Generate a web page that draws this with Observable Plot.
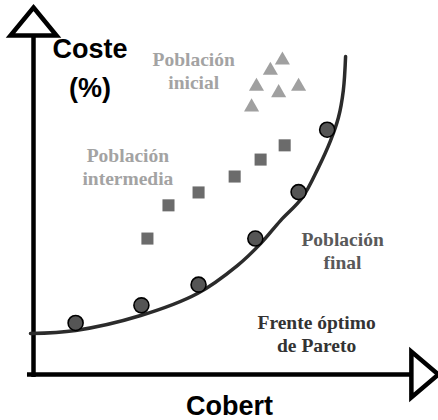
<!DOCTYPE html>
<html>
<head>
<meta charset="utf-8">
<script src="https://cdn.jsdelivr.net/npm/d3@7"></script>
<script src="https://cdn.jsdelivr.net/npm/@observablehq/plot@0.6"></script>
<style>body{margin:0;background:#fff}</style>
</head>
<body>
<div id="chart"></div>
<script>
// Población inicial (triángulos)
const inicialX = [66.2, 63.0, 59.3, 70.5, 65.2, 58.0];
const inicialY = [92.7, 89.7, 85.0, 85.0, 83.1, 78.9];
// Población intermedia (cuadrados)
const intermediaX = [66.8, 60.4, 53.5, 43.9, 35.9, 30.3];
const intermediaY = [67.6, 63.4, 58.4, 53.7, 49.9, 40.1];
// Población final (círculos)
const finalX = [11.2, 28.7, 43.9, 59.0, 70.5, 78.1];
const finalY = [15.2, 20.4, 26.5, 40.1, 53.8, 72.2];
// Frente óptimo de Pareto (curva)
const frenteX = [-0.8, 11.2, 28.5, 43.6, 54.3, 60.4, 65.7, 71.5, 75.8, 79.0, 81.1, 82.4, 83.0];
const frenteY = [12.1, 13.0, 17.4, 23.9, 32.2, 38.6, 45.4, 52.2, 61.1, 69.0, 75.8, 83.8, 93.8];
// Textos
const axisLabels = ["Coste\n(%)", "Cobert"];
const groupLabels = ["Población\ninicial", "Población\nintermedia", "Población\nfinal", "Frente óptimo\nde Pareto"];

const zip = (xs, ys) => xs.map((x, i) => ({x, y: ys[i]}));

// annotation anchor positions (data units)
const axisLabelPos = [{x: 15.0, y: 101.4}, {x: 52.1, y: -3.95}];
const groupLabelPos = [{x: 42.6, y: 95.9}, {x: 25.1, y: 67.6}, {x: 82.2, y: 42.8}, {x: 75.3, y: 18.3}];
const groupColors = ["#a3a3a3", "#a3a3a3", "#595959", "#333333"];

const arrowUp = {draw(ctx) { ctx.moveTo(0, -28); ctx.lineTo(23, 0); ctx.lineTo(-23, 0); ctx.closePath(); }};
const arrowRight = {draw(ctx) { ctx.moveTo(27, 0); ctx.lineTo(0, 23); ctx.lineTo(0, -23); ctx.closePath(); }};

const chart = Plot.plot({
  width: 438,
  height: 420,
  marginLeft: 33,
  marginRight: 29,
  marginTop: 35,
  marginBottom: 46,
  x: {domain: [0, 100], axis: null},
  y: {domain: [0, 100], axis: null},
  color: {type: "identity"},
  style: {background: "#fff", overflow: "visible"},
  marks: [
    Plot.ruleX([0], {y1: -0.9, y2: 100, stroke: "black", strokeWidth: 4.5}),
    Plot.ruleY([0], {x1: -1.6, x2: 100.5, stroke: "black", strokeWidth: 4.5}),
    Plot.dot([{x: 0, y: 100}], {x: "x", y: "y", symbol: arrowUp, r: 10, fill: "white", stroke: "black", strokeWidth: 4.5, strokeLinejoin: "miter"}),
    Plot.dot([{x: 100.5, y: 0}], {x: "x", y: "y", symbol: arrowRight, r: 10, fill: "white", stroke: "black", strokeWidth: 4.5, strokeLinejoin: "miter"}),
    Plot.line(zip(frenteX, frenteY), {x: "x", y: "y", curve: "catmull-rom", stroke: "#2b2b2b", strokeWidth: 3.5}),
    Plot.dot(zip(inicialX, inicialY), {x: "x", y: "y", symbol: "triangle", r: 5.6, fill: "#a0a0a0", stroke: "none"}),
    Plot.dot(zip(intermediaX, intermediaY), {x: "x", y: "y", symbol: "square", r: 6.8, fill: "#6b6b6b", stroke: "none"}),
    Plot.dot(zip(finalX, finalY), {x: "x", y: "y", r: 7.5, fill: "#555555", stroke: "black", strokeWidth: 1.6}),
    Plot.text(axisLabels.map((t, i) => ({t, ...axisLabelPos[i]})), {
      x: "x", y: "y", text: "t", lineAnchor: "top", lineHeight: 1.44,
      fontFamily: "'Liberation Sans', Arial, sans-serif", fontWeight: "bold", fontSize: 27, fill: "black", textAnchor: "middle"
    }),
    Plot.text(groupLabels.map((t, i) => ({t, c: groupColors[i], ...groupLabelPos[i]})), {
      x: "x", y: "y", text: "t", fill: "c", lineAnchor: "top", lineHeight: 1.2,
      fontFamily: "'Liberation Serif', 'Times New Roman', serif", fontWeight: "bold", fontSize: 19.5, textAnchor: "middle"
    })
  ]
});
document.getElementById("chart").appendChild(chart);
</script>
</body>
</html>
